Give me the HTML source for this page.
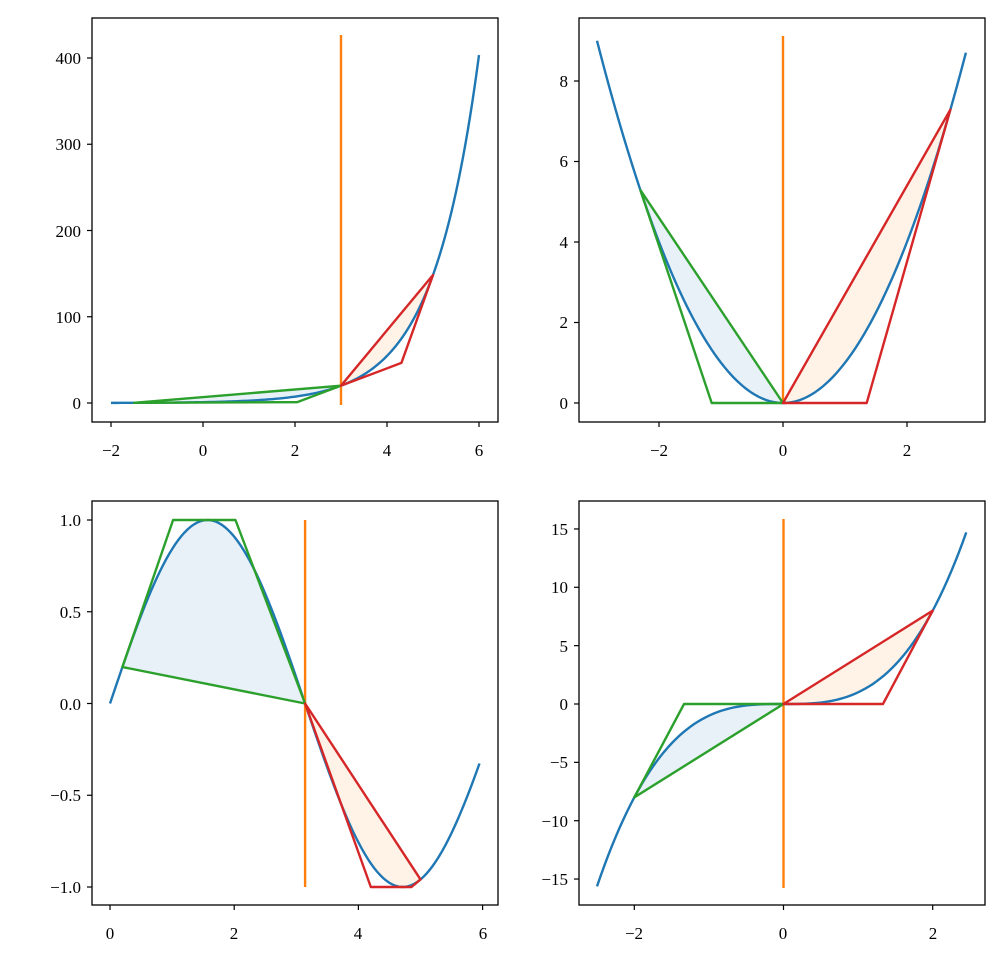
<!DOCTYPE html>
<html><head><meta charset="utf-8"><style>
body{margin:0;background:#fff}
svg text{font-family:"Liberation Serif",serif;font-size:17px;fill:#000}
</style></head><body>
<svg id="s" width="1004" height="968" xmlns="http://www.w3.org/2000/svg">
<g id="plots"></g>
<g fill="none" stroke="#000" stroke-width="1.3">
<rect x="92" y="18" width="406" height="404"/>
<rect x="579" y="18" width="406" height="404"/>
<rect x="92" y="501" width="406" height="404"/>
<rect x="579" y="501" width="406" height="404"/>
</g>
<g id="ticks" stroke="#000" stroke-width="1.2"></g>
<g text-anchor="middle">
<text x="111" y="456">−2</text><text x="203" y="456">0</text><text x="295" y="456">2</text><text x="387" y="456">4</text><text x="479" y="456">6</text>
<text x="659" y="456">−2</text><text x="783" y="456">0</text><text x="907" y="456">2</text>
<text x="110" y="939">0</text><text x="234" y="939">2</text><text x="358" y="939">4</text><text x="483" y="939">6</text>
<text x="634" y="939">−2</text><text x="783" y="939">0</text><text x="933" y="939">2</text>
</g>
<g text-anchor="end">
<text x="81" y="409">0</text><text x="81" y="323">100</text><text x="81" y="237">200</text><text x="81" y="150">300</text><text x="81" y="64">400</text>
<text x="568" y="409">0</text><text x="568" y="328">2</text><text x="568" y="248">4</text><text x="568" y="167">6</text><text x="568" y="87">8</text>
<text x="81" y="526">1.0</text><text x="81" y="618">0.5</text><text x="81" y="710">0.0</text><text x="81" y="801">−0.5</text><text x="81" y="893">−1.0</text>
<text x="568" y="535">15</text><text x="568" y="593">10</text><text x="568" y="652">5</text><text x="568" y="710">0</text><text x="568" y="768">−5</text><text x="568" y="827">−10</text><text x="568" y="885">−15</text>
</g>
</svg>
<script>
var G=document.getElementById('plots'),T=document.getElementById('ticks');
function el(t,a,p){var e=document.createElementNS('http://www.w3.org/2000/svg',t);for(var k in a)e.setAttribute(k,a[k]);(p||G).appendChild(e);return e;}
function plot(o){
 var X=function(x){return o.x0+o.sx*x},Y=function(y){return o.y0-o.sy*y};
 var pts=[];for(var x=o.lo;x<=o.hi+1e-9;x+=0.05)pts.push([x,o.f(x)]);
 function tri(a,c){var fa=o.f(a),fc=o.f(c),da=o.d(a),dc=o.d(c);
  var tx=(fc-dc*c-fa+da*a)/(da-dc),ty=fa+da*(tx-a);var P=[[a,fa]];
  var L=null;if(o.ymin!==undefined&&ty<o.ymin)L=o.ymin;if(o.ymax!==undefined&&ty>o.ymax)L=o.ymax;
  if(L===null)P.push([tx,ty]);else{P.push([a+(L-fa)/da,L]);P.push([c+(L-fc)/dc,L]);}
  P.push([c,fc]);return P;}
 function fill(a,c,col){var s='';var n=40;for(var i=0;i<=n;i++){var x=a+(c-a)*i/n;s+=(i?'L':'M')+X(x)+','+Y(o.f(x));}s+='Z';el('path',{d:s,fill:col,stroke:'none'});}
 fill(o.a,o.c,'rgba(31,119,180,0.1)');fill(o.c,o.b,'rgba(255,127,14,0.1)');
 el('path',{d:pts.map(function(p,i){return(i?'L':'M')+X(p[0])+','+Y(p[1])}).join(''),fill:'none',stroke:'#1f77b4','stroke-width':2.4});
 el('line',{x1:X(o.c),x2:X(o.c),y1:o.oy1,y2:o.oy2,stroke:'#ff7f0e','stroke-width':2.4});
 var g=o.g||tri(o.a,o.c),r=o.r||tri(o.c,o.b);
 el('polygon',{points:g.map(function(p){return X(p[0])+','+Y(p[1])}).join(' '),fill:'none',stroke:'#2ca02c','stroke-width':2.4,'stroke-linejoin':'round'});
 el('polygon',{points:r.map(function(p){return X(p[0])+','+Y(p[1])}).join(' '),fill:'none',stroke:'#d62728','stroke-width':2.4,'stroke-linejoin':'round'});
 o.xt.forEach(function(t){el('line',{x1:X(t),x2:X(t),y1:o.by,y2:o.by+5},T)});
 o.yt.forEach(function(t){el('line',{x1:o.lx,x2:o.lx-5,y1:Y(t),y2:Y(t)},T)});
}
plot({f:Math.exp,d:Math.exp,lo:-2,hi:6,a:-1.5,c:3,b:5,x0:203,sx:46,y0:403,sy:0.8625,ymin:0,oy1:35,oy2:405,xt:[-2,0,2,4,6],yt:[0,100,200,300,400],by:422,lx:92});
plot({f:function(x){return x*x},d:function(x){return 2*x},lo:-3,hi:2.95,a:-2.3,c:0,b:2.7,x0:783,sx:62,y0:403,sy:40.25,ymin:0,oy1:36,oy2:403,xt:[-2,0,2],yt:[0,2,4,6,8],by:422,lx:579});
var P=Math.PI;
plot({f:Math.sin,d:Math.cos,lo:0,hi:5.95,a:0.2,c:P,b:5,x0:110,sx:62.1,y0:703.5,sy:183.5,ymin:-1,ymax:1,oy1:520,oy2:887,
 g:[[0.2,Math.sin(0.2)],[1.016,1],[2.02,1],[P,0]],
 r:[[P,0],[4.2,-1],[4.855,-1],[5,Math.sin(5)]],
 xt:[0,2,4,6],yt:[-1,-0.5,0,0.5,1],by:905,lx:92});
plot({f:function(x){return x*x*x},d:function(x){return 3*x*x+1e-12},lo:-2.5,hi:2.45,a:-2,c:0,b:2,x0:783.5,sx:74.6,y0:704,sy:11.67,oy1:519,oy2:888,xt:[-2,0,2],yt:[-15,-10,-5,0,5,10,15],by:905,lx:579});
</script>
</body></html>
